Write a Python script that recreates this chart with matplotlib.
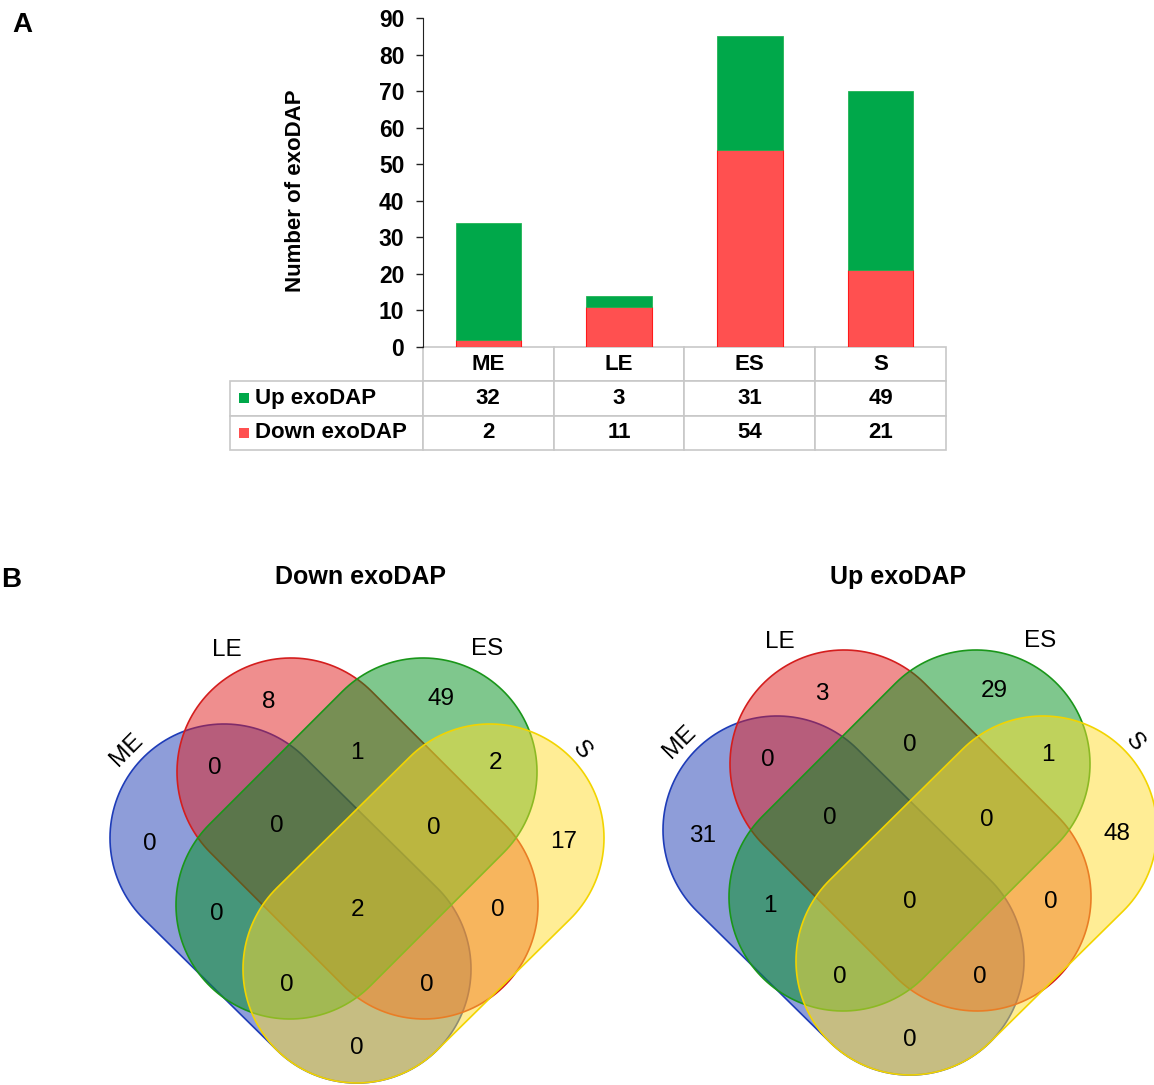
"""
Stacked bar chart with data table (A) and two four-set Venn diagrams (B)
"""
import numpy as np
import matplotlib
matplotlib.use('Agg')
import matplotlib.pyplot as plt
from matplotlib.patches import Polygon, Rectangle
from matplotlib.colors import to_rgba

plt.rcParams['font.family'] = ['Liberation Sans', 'DejaVu Sans']

# ---- data ----
categories = ['ME', 'LE', 'ES', 'S']
up_counts = [32, 3, 31, 49]
down_counts = [2, 11, 54, 21]

venn_regions = ['ME', 'LE', 'ES', 'S', 'ME&LE', 'LE&ES', 'ES&S', 'ME&LE&ES', 'LE&ES&S',
                'ME&ES', 'ME&LE&ES&S', 'LE&S', 'ME&ES&S', 'ME&LE&S', 'ME&S']
down_venn = [0, 8, 49, 17, 0, 1, 2, 0, 0, 0, 2, 0, 0, 0, 0]
up_venn = [31, 3, 29, 48, 0, 0, 1, 0, 0, 1, 0, 0, 0, 0, 0]

up_color = '#00A84A'
down_color = '#FF5050'

W, H = 1154, 1085
fig = plt.figure(figsize=(W / 100, H / 100), dpi=100)


def px_axes(left, top, width, height):
    return fig.add_axes([left / W, 1 - (top + height) / H, width / W, height / H])


# ---- panel A: stacked bars ----
ax = px_axes(423, 18, 523, 329)
x = np.arange(len(categories))
ax.bar(x, down_counts, 0.5, color=down_color, edgecolor='#FF1A1A', linewidth=0.8)
ax.bar(x, up_counts, 0.5, bottom=down_counts, color=up_color, edgecolor='#22B455', linewidth=0.6)
ax.set_xlim(-0.5, 3.5)
ax.set_ylim(0, 90)
ax.set_yticks(range(0, 91, 10))
ax.set_xticks([])
for side in ['top', 'right', 'bottom']:
    ax.spines[side].set_visible(False)
ax.spines['left'].set_color('#222222')
ax.tick_params(axis='y', direction='out', length=5, width=1, pad=8.5, labelsize=16.5, colors='#222222')
for lab in ax.get_yticklabels():
    lab.set_fontweight('bold')
    lab.set_color('black')
ax.text(-0.2447, 0.475, 'Number of exoDAP', transform=ax.transAxes, rotation=90,
        ha='center', va='center', fontsize=16, fontweight='bold')

cell_text = [['Up exoDAP'] + [str(v) for v in up_counts],
             ['Down exoDAP'] + [str(v) for v in down_counts]]
tbl = ax.table(cellText=cell_text, colLabels=[''] + categories, cellLoc='center',
               colWidths=[193, 131, 131, 131, 131],
               bbox=[(230 - 423) / 523, -(450 - 347) / 329, (946 - 230) / 523, (450 - 347) / 329])
tbl.auto_set_font_size(False)
tbl.set_fontsize(16)
for (r, c), cell in tbl.get_celld().items():
    cell.set_edgecolor('#C8C8C8')
    cell.set_linewidth(1.2)
    cell.get_text().set_fontweight('bold')
    if r == 0 and c == 0:
        cell.set_visible(False)
    if c == 0 and r > 0:
        cell.get_text().set_ha('left')
        cell._loc = 'left'
        cell.PAD = 0.13

# legend keys inside the row label cells
for row, col in [(1, up_color), (2, down_color)]:
    yc = -(347 + 34.3 * row + 17 - 347) / 329
    ax.add_patch(Rectangle(((239 - 423) / 523, yc - 5 / 329), 10 / 523, 10 / 329,
                           transform=ax.transAxes, facecolor=col, edgecolor='none', clip_on=False))

fig.text(12 / W, 1 - 25 / H, 'A', fontsize=20, fontweight='bold', va='center')
fig.text(1 / W, 1 - 580 / H, 'B', fontsize=20, fontweight='bold', va='center')

# ---- panel B: four-set Venn diagrams ----
set_shapes = [
    ('ME', (0, -59), (-133, 72), '#1E3CB4', '#1E3CB8'),
    ('LE', (-66, 138), (67, 5), '#E11E1E', '#D41E1E'),
    ('ES', (66, 138), (-67, 5), '#00901C', '#1A961A'),
    ('S', (0, -59), (133, 72), '#FFDD2D', '#F2D400'),
]
region_xy = {'ME': (-207, 66), 'LE': (-88, 208), 'ES': (84, 211), 'S': (207, 68),
             'ME&LE': (-142, 142), 'LE&ES': (0, 157), 'ES&S': (138, 147),
             'ME&LE&ES': (-80, 84), 'LE&ES&S': (77, 82), 'ME&ES': (-140, -4),
             'ME&LE&ES&S': (0, 0), 'LE&S': (141, 0), 'ME&ES&S': (-70, -75),
             'ME&LE&S': (70, -75), 'ME&S': (0, -138)}
set_label_xy = {'ME': (-230, 160, 45), 'LE': (-130, 260, 0), 'ES': (130, 261, 0), 'S': (225, 160, -50)}
radius = 114


def stadium(p1, p2, r, n=80):
    p1 = np.array(p1, float)
    p2 = np.array(p2, float)
    d = p2 - p1
    ang = np.arctan2(d[1], d[0])
    a2 = np.linspace(ang - np.pi / 2, ang + np.pi / 2, n)
    a1 = np.linspace(ang + np.pi / 2, ang + 3 * np.pi / 2, n)
    cap2 = p2 + r * np.column_stack([np.cos(a2), np.sin(a2)])
    cap1 = p1 + r * np.column_stack([np.cos(a1), np.sin(a1)])
    return np.vstack([cap2, cap1])


def draw_venn(cx, cy, counts, title, title_dx, title_dy):
    vx = px_axes(cx - 300, cy - 350, 600, 540)
    vx.set_xlim(-300, 300)
    vx.set_ylim(-190, 350)
    vx.set_axis_off()
    for name, p1, p2, fill, edge in set_shapes:
        vx.add_patch(Polygon(stadium(p1, p2, radius), closed=True,
                             facecolor=to_rgba(fill, 0.5), edgecolor=edge, linewidth=1.2))
    for reg, val in zip(venn_regions, counts):
        rx, ry = region_xy[reg]
        vx.text(rx, ry, str(val), ha='center', va='center', fontsize=17.5)
    for name, (lx, ly, rot) in set_label_xy.items():
        vx.text(lx, ly, name, ha='center', va='center', fontsize=17.5, rotation=rot)
    vx.text(title_dx, title_dy, title, ha='center', va='center',
            fontsize=18, fontweight='bold')


draw_venn(357, 910, down_venn, 'Down exoDAP', 3, 333)
draw_venn(910, 902, up_venn, 'Up exoDAP', -12, 325)

fig.savefig('out.png', dpi=100)
